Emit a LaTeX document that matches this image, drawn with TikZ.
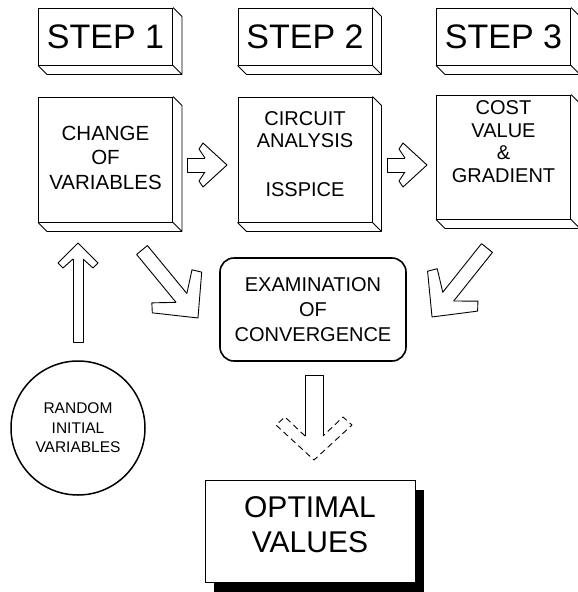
\documentclass[tikz,border=0pt]{standalone}
\usepackage{fontspec}
\setmainfont{Liberation Sans}
\usetikzlibrary{calc,shadows}

\newcommand\fk[1]{\pgfkeysvalueof{/tikz/fat/#1}}
\newcommand\joinarrow[3][]{%
  \path let \p1=($(#3)-(#2)$), \n1={atan2(\y1,\x1)}, \n2={veclen(\x1,\y1)} in
    pic[rotate=\n1,#1] at (#2) {fatarrow=\n2};}
\newcommand\slabside[1]{%
  \draw[slabline] (#1.north east) -- ++(9,9) |- ($(#1.south west)+(9,9)$) -- (#1.south west)
    (#1.south east) -- ++(9,9);}

\tikzset{
  fat/s/.initial=7, fat/hi/.initial=22, fat/hb/.initial=28,
  fat/wb/.initial=16, fat/ho/.initial=24, fat/w/.initial=22,
  pics/fatarrow/.style={code={
    \pgfmathsetmacro\fatlen{#1}
    \draw[fat shaft] (\fatlen-\fk{hi},-\fk{s}) -- (0,-\fk{s}) -- (0,\fk{s}) -- (\fatlen-\fk{hi},\fk{s});
    \draw[fat head] (\fatlen-\fk{hi},\fk{s}) -- (\fatlen-\fk{hb},\fk{wb}) -- (\fatlen-\fk{ho},\fk{w})
      -- (\fatlen,0) -- (\fatlen-\fk{ho},-\fk{w}) -- (\fatlen-\fk{hb},-\fk{wb}) -- (\fatlen-\fk{hi},-\fk{s});
  }}
}

\begin{document}
\begin{tikzpicture}[x=1pt, y=-1pt,
  slab/.style={draw, line width=0.9pt, minimum width=134pt, inner sep=0pt},
  slabline/.style={line width=0.9pt, line join=round},
  boxtext/.style={align=center, inner sep=0pt},
  fat shaft/.style={draw, line width=0.9pt, line join=round},
  fat head/.style={draw, line width=0.9pt, line join=round},
  sidearrow/.style={fat/s=7, fat/hi=22, fat/hb=28, fat/wb=16, fat/ho=24, fat/w=22},
  risearrow/.style={fat/s=5, fat/hi=16, fat/hb=25, fat/wb=15, fat/ho=20, fat/w=20},
  slantarrow/.style={fat/s=7, fat/hi=26, fat/hb=41, fat/wb=26, fat/ho=33, fat/w=32},
  sinkarrow/.style={fat/s=9, fat/hi=24, fat/hb=43, fat/wb=29, fat/ho=35, fat/w=38,
    fat head/.append style={dash pattern=on 6pt off 4pt}}]

\useasboundingbox (0,0) rectangle (578,592);

% step headers
\node[slab, minimum height=57pt, font=\fontsize{34}{34}\selectfont] (s1) at (105.5,36.5) {STEP 1};
\node[slab, minimum height=57pt, font=\fontsize{34}{34}\selectfont] (s2) at (305,36.5) {STEP 2};
\node[slab, minimum height=57pt, font=\fontsize{34}{34}\selectfont] (s3) at (503.5,36.5) {STEP 3};
\slabside{s1} \slabside{s2} \slabside{s3}

% process boxes
\node[slab, minimum height=125pt] (b1) at (105.5,159.5) {};
\node[slab, minimum height=125pt] (b2) at (305,159.5) {};
\node[slab, minimum height=124pt] (b3) at (503.5,157) {};
\slabside{b1} \slabside{b2} \slabside{b3}
\node[boxtext, font=\fontsize{20.5}{24.5}\selectfont] (t1) at (105.5,157.5) {CHANGE\\OF\\VARIABLES};
\node[boxtext, font=\fontsize{20}{22}\selectfont] (t2) at (305,154) {CIRCUIT\\ANALYSIS\\[27pt]ISSPICE};
\node[boxtext, font=\fontsize{20}{22.5}\selectfont] (t3) at (503.5,141.5) {COST\\VALUE\\\&\\GRADIENT};

% convergence test and start point
\node[draw, line width=1.6pt, rounded corners=14pt, minimum width=186pt, minimum height=103pt,
  align=center, font=\fontsize{20}{25}\selectfont] (ex) at (313,309.5) {EXAMINATION\\OF\\CONVERGENCE};
\node[circle, draw, line width=1.5pt, minimum size=134pt, inner sep=0pt, align=center,
  font=\fontsize{15.5}{19.5}\selectfont] (rc) at (78,428) {RANDOM\\INITIAL\\VARIABLES};

% result
\node[draw, fill=white, line width=0.9pt, minimum width=210pt, minimum height=102pt,
  drop shadow={shadow xshift=9pt, shadow yshift=-10pt, opacity=1, fill=black}] (op) at (310,531) {};
\node[boxtext, font=\fontsize{30}{35}\selectfont] (ot) at (310,524.5) {OPTIMAL\\VALUES};

% arrow ends
\coordinate (r1a) at (187,165); \coordinate (r1b) at (227,165);
\coordinate (r2a) at (387,165); \coordinate (r2b) at (427,165);
\coordinate (upa) at ($(rc.north)+(0,-18)$); \coordinate (upb) at (78,243);
\coordinate (d1a) at (142,250); \coordinate (d1b) at (198,318);
\coordinate (d2a) at (487,248); \coordinate (d2b) at (432,317);
\coordinate (dna) at ($(ex.south)+(1,14)$); \coordinate (dnb) at (314,460);

\joinarrow[sidearrow]{r1a}{r1b}
\joinarrow[sidearrow]{r2a}{r2b}
\joinarrow[risearrow]{upa}{upb}
\joinarrow[slantarrow]{d1a}{d1b}
\joinarrow[slantarrow]{d2a}{d2b}
\joinarrow[sinkarrow]{dna}{dnb}
\end{tikzpicture}
\end{document}
